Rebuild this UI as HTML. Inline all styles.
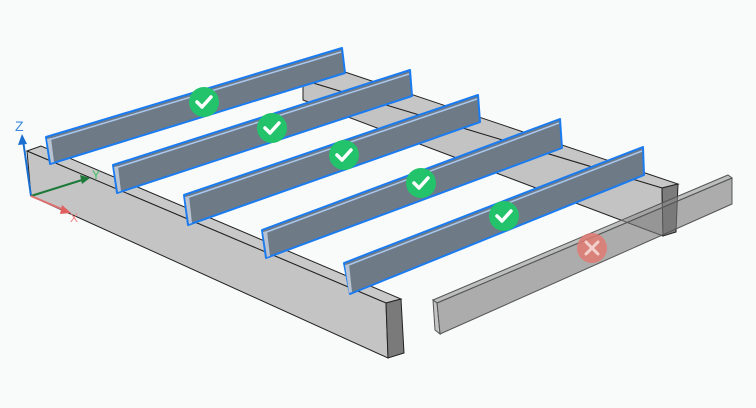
<!DOCTYPE html>
<html><head><style>
html,body{margin:0;padding:0;background:#f9fafa;}
svg{display:block}
</style></head><body>
<svg width="756" height="408" viewBox="0 0 756 408" xmlns="http://www.w3.org/2000/svg" font-family="Liberation Sans, sans-serif">
<rect width="756" height="408" fill="#f9fafa"/>
<!-- back beam -->
<polygon points="303,80 345,72 678,184 662,188" fill="#c6c6c6" stroke="#222" stroke-width="1"/>
<polygon points="303,80 662,188 663,236 303,100" fill="#c3c3c3" stroke="#222" stroke-width="1"/>
<polygon points="662,188 678,184 676,232 663,236" fill="#7c7c7c" stroke="#222" stroke-width="1"/>
<!-- front beam -->
<polygon points="27,151 41,146 401,299 386,303" fill="#c9c9c9" stroke="#222" stroke-width="1"/>
<polygon points="27,151 386,303 388,358 31,196" fill="#c4c4c4" stroke="#222" stroke-width="1"/>
<polygon points="386,303 401,299 404,353 388,358" fill="#7a7a7a" stroke="#222" stroke-width="1"/>
<!-- joists -->
<g stroke="#1a7cf0" stroke-width="2" stroke-linejoin="round">
<polygon points="46,137 342,48 345,73 50,164" fill="#6f7a87"/>
<polygon points="113,165 410,70 412,96 117,193" fill="#6f7a87"/>
<polygon points="184,195 478,95 480,122 188,225" fill="#6f7a87"/>
<polygon points="262,230 560,119 562,148 266,258" fill="#6f7a87"/>
<polygon points="344,263 643,147 644,175 350,294" fill="#6f7a87"/>
</g>
<g stroke="#aac8ee" stroke-width="1.5">
<line x1="48" y1="140" x2="341" y2="52"/>
<line x1="115" y1="168" x2="409" y2="74"/>
<line x1="186" y1="198" x2="477" y2="99"/>
<line x1="264" y1="233" x2="559" y2="123"/>
<line x1="346" y1="266" x2="642" y2="151"/>
</g>
<g fill="#b7c3d2">
<polygon points="47,139 51,138 54,162 51,163"/>
<polygon points="114,167 118,166 121,191 118,192"/>
<polygon points="185,197 189,196 192,223 189,224"/>
<polygon points="263,232 267,231 270,256 267,257"/>
<polygon points="345,265 349,264 352,292 349,293"/>
</g>
<!-- ghost beam -->
<polygon points="433,300 728,175 732,178 437,303" fill="rgba(140,140,140,0.55)" stroke="#555" stroke-width="1"/>
<polygon points="437,303 732,178 732,204 440,334" fill="rgba(120,120,120,0.6)" stroke="#555" stroke-width="1"/>
<polygon points="433,300 437,303 440,334 435,330" fill="rgba(160,160,160,0.6)" stroke="#555" stroke-width="1"/>
<!-- badges -->
<g fill="#22c36a">
<circle cx="204" cy="102" r="15"/><circle cx="272" cy="128" r="15"/><circle cx="344" cy="155" r="15"/><circle cx="421" cy="183" r="15"/><circle cx="504" cy="216" r="15"/>
</g>
<g fill="none" stroke="#fff" stroke-width="3.5" stroke-linecap="round" stroke-linejoin="round">
<polyline points="197,102 202,107 211,97"/>
<polyline points="265,128 270,133 279,123"/>
<polyline points="337,155 342,160 351,150"/>
<polyline points="414,183 419,188 428,178"/>
<polyline points="497,216 502,221 511,211"/>
</g>
<circle cx="592" cy="248" r="15" fill="#e07a73" opacity="0.85"/>
<g stroke="#f3d0cc" stroke-width="3" stroke-linecap="round"><line x1="586" y1="242" x2="598" y2="254"/><line x1="598" y1="242" x2="586" y2="254"/></g>
<!-- axes -->
<line x1="31" y1="196" x2="23" y2="140" stroke="#1a6fd0" stroke-width="2"/>
<polygon points="22,134 18,145 27,144" fill="#1a6fd0"/>
<text x="15" y="131" font-size="14" fill="#3a8ae0">Z</text>
<line x1="31" y1="196" x2="82" y2="180" stroke="#1d7a3a" stroke-width="2"/>
<polygon points="90,178 80,175 82,184" fill="#1d7a3a"/>
<text x="92" y="179" font-size="12" fill="#3cc060">Y</text>
<line x1="31" y1="196" x2="64" y2="210" stroke="#e07070" stroke-width="2"/>
<polygon points="71,213 62,205 60,214" fill="#e06060"/>
<text x="70" y="222" font-size="12" fill="#f08080">X</text>
</svg>
</body></html>
